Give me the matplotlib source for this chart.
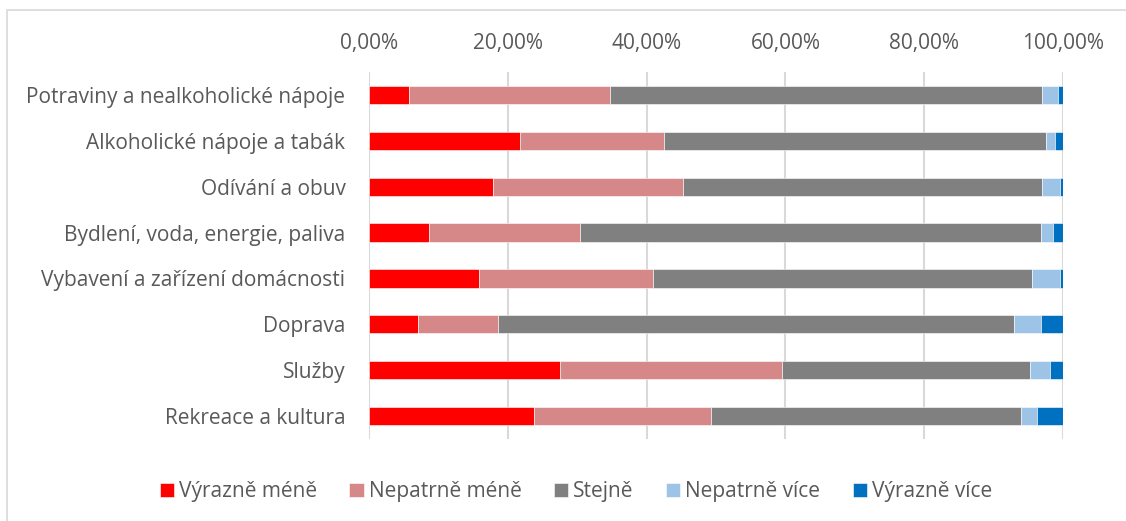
import matplotlib.pyplot as plt
import numpy as np
from matplotlib.patches import Rectangle

categories = ["Potraviny a nealkoholické nápoje", "Alkoholické nápoje a tabák",
              "Odívání a obuv", "Bydlení, voda, energie, paliva",
              "Vybavení a zařízení domácnosti", "Doprava", "Služby",
              "Rekreace a kultura"]
series = ["Výrazně méně", "Nepatrně méně", "Stejně", "Nepatrně více", "Výrazně více"]

vyrazne_mene = [5.8, 21.7, 17.9, 8.6, 15.8, 7.1, 27.5, 23.8]
nepatrne_mene = [28.9, 20.8, 27.4, 21.8, 25.1, 11.5, 32.0, 25.5]
stejne = [62.3, 55.1, 51.7, 66.4, 54.6, 74.4, 35.7, 44.7]
nepatrne_vice = [2.3, 1.3, 2.6, 1.8, 4.1, 3.8, 2.9, 2.2]
vyrazne_vice = [0.7, 1.1, 0.4, 1.4, 0.4, 3.2, 1.9, 3.8]

colors = ["#FF0000", "#D58887", "#808080", "#9DC3E6", "#0070C0"]
ticks = [0, 20, 40, 60, 80, 100]
tick_labels = ["0,00%", "20,00%", "40,00%", "60,00%", "80,00%", "100,00%"]

plt.rcParams['font.family'] = ['Open Sans', 'DejaVu Sans']
txt = "#595959"
fs = 15

fig = plt.figure(figsize=(11.26, 5.21), dpi=100)
fig.patches.append(Rectangle((7 / 1126, -0.1), 1.2, 1 - 10 / 521 + 0.1,
                             transform=fig.transFigure, fill=False,
                             edgecolor="#D9D9D9", linewidth=1.2))
ax = fig.add_axes([369 / 1126, 1 - 439 / 521, 694 / 1126, 367 / 521])

data = [vyrazne_mene, nepatrne_mene, stejne, nepatrne_vice, vyrazne_vice]
y = np.arange(len(categories))
left = np.zeros(len(categories))
for vals, name, c in zip(data, series, colors):
    ax.barh(y, vals, left=left, height=0.4, color=c, label=name,
            edgecolor="white", linewidth=0.4, zorder=3)
    left += np.array(vals)

ax.set_xlim(0, 100)
ax.set_ylim(len(categories) - 0.5, -0.5)
ax.set_yticks(y)
ax.set_yticklabels(categories, fontsize=fs, color=txt)
ax.set_xticks(ticks)
ax.set_xticklabels(tick_labels, fontsize=fs, color=txt)
ax.xaxis.tick_top()
ax.tick_params(axis="both", length=0)
ax.tick_params(axis="y", pad=17)
ax.tick_params(axis="x", pad=13)
ax.grid(axis="x", color="#D9D9D9", linewidth=1.5, zorder=0)
for s in ["top", "right", "bottom", "left"]:
    ax.spines[s].set_visible(False)

fig.legend(loc="center", bbox_to_anchor=(576 / 1126, 1 - 492 / 521), ncol=5,
           frameon=False, fontsize=fs, labelcolor=txt, handlelength=0.68,
           handleheight=0.68, handletextpad=0.25, columnspacing=1.55)

fig.savefig("out.png", dpi=100)
